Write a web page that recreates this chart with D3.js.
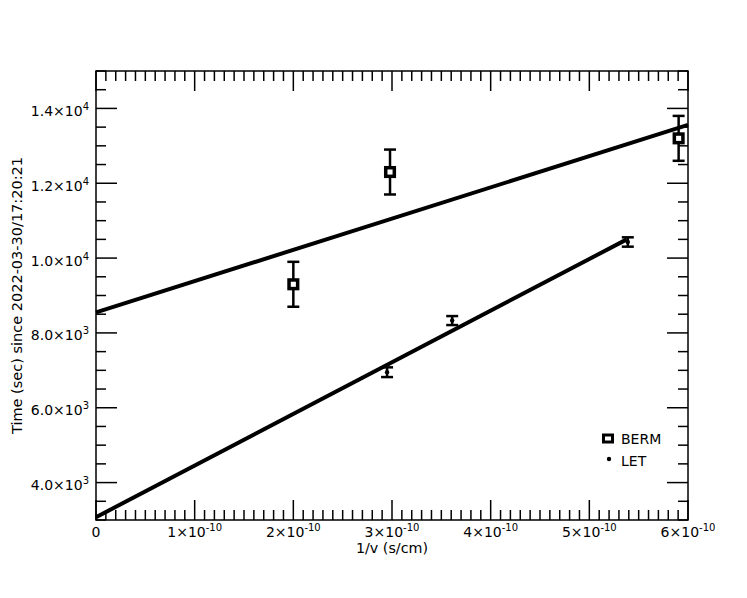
<!DOCTYPE html>
<html>
<head>
<meta charset="utf-8">
<script src="https://cdn.jsdelivr.net/npm/d3@7"></script>
<style>
  body { margin: 0; background: #fff; }
  text { font-family: "DejaVu Sans", sans-serif; fill: #000; }
</style>
</head>
<body>
<svg id="chart" width="747" height="598"></svg>
<script>
// ---- data ----
const xTicks = [0, 1e-10, 2e-10, 3e-10, 4e-10, 5e-10, 6e-10];
const xTickMant = ["0", "1×10", "2×10", "3×10", "4×10", "5×10", "6×10"];
const xTickExp = ["", "-10", "-10", "-10", "-10", "-10", "-10"];
const yTicks = [4000, 6000, 8000, 10000, 12000, 14000];
const yTickMant = ["4.0×10", "6.0×10", "8.0×10", "1.0×10", "1.2×10", "1.4×10"];
const yTickExp = ["3", "3", "3", "4", "4", "4"];

const bermX = [2.0e-10, 2.98e-10, 5.905e-10];
const bermY = [9300, 12300, 13200];
const bermErr = [600, 600, 600];

const letX = [2.95e-10, 3.61e-10, 5.39e-10];
const letY = [6950, 8330, 10430];
const letErr = [130, 120, 125];

const bermFitX = [0, 6e-10];
const bermFitY = [8550, 13560];
const letFitX = [0, 5.38e-10];
const letFitY = [3075, 10500];

const seriesNames = ["BERM", "LET"];

// ---- layout ----
const svg = d3.select("#chart");
const L = 96, R = 688, T = 71, B = 520;
const x = d3.scaleLinear().domain([0, 6e-10]).range([L, R]);
const y = d3.scaleLinear().domain([3000, 15000]).range([B, T]);

const axisG = svg.append("g").attr("stroke", "#000").attr("stroke-width", 1.5).attr("fill", "none");

// minor/major ticks
const xMinor = d3.range(0, 61).map(i => i * 1e-11);
const yMinor = d3.range(0, 25).map(i => 3000 + i * 500);

xMinor.forEach((v, i) => {
  const len = (i % 10 === 0) ? 20 : 10;
  const px = x(v);
  axisG.append("line").attr("x1", px).attr("x2", px).attr("y1", B).attr("y2", B - len);
  axisG.append("line").attr("x1", px).attr("x2", px).attr("y1", T).attr("y2", T + len);
});
yMinor.forEach(v => {
  const len = (v % 2000 === 0) ? 21 : 10;
  const py = y(v);
  axisG.append("line").attr("x1", L).attr("x2", L + len).attr("y1", py).attr("y2", py);
  axisG.append("line").attr("x1", R).attr("x2", R - len).attr("y1", py).attr("y2", py);
});
axisG.append("rect").attr("x", L).attr("y", T).attr("width", R - L).attr("height", B - T);

// x tick labels
xTicks.forEach((v, i) => {
  const t = svg.append("text").attr("x", x(v)).attr("y", 537).attr("text-anchor", "middle")
    .attr("font-size", 14);
  t.append("tspan").text(xTickMant[i]);
  if (xTickExp[i]) t.append("tspan").attr("dy", -6).attr("font-size", 10).text(xTickExp[i]);
});
// y tick labels
yTicks.forEach((v, i) => {
  const t = svg.append("text").attr("x", 89).attr("y", y(v) + 7.5).attr("text-anchor", "end")
    .attr("font-size", 14);
  t.append("tspan").text(yTickMant[i]);
  t.append("tspan").attr("dy", -6).attr("font-size", 10).text(yTickExp[i]);
});

// axis titles
svg.append("text").attr("x", (L + R) / 2).attr("y", 553).attr("text-anchor", "middle")
  .attr("font-size", 14.3).text("1/v (s/cm)");
svg.append("text").attr("transform", `translate(22,${(T + B) / 2}) rotate(-90)`)
  .attr("text-anchor", "middle").attr("font-size", 14.5)
  .text("Time (sec) since 2022-03-30/17:20:21");

// fit lines
const line = d3.line().x(d => x(d[0])).y(d => y(d[1]));
const plot = svg.append("g");
plot.append("path").datum(bermFitX.map((v, i) => [v, bermFitY[i]]))
  .attr("d", line).attr("stroke", "#000").attr("stroke-width", 4).attr("fill", "none");
plot.append("path").datum(letFitX.map((v, i) => [v, letFitY[i]]))
  .attr("d", line).attr("stroke", "#000").attr("stroke-width", 4).attr("fill", "none");

// error bars
function errBars(xs, ys, es) {
  xs.forEach((v, i) => {
    const px = x(v), y1 = y(ys[i] + es[i]), y2 = y(ys[i] - es[i]);
    const g = plot.append("g").attr("stroke", "#000").attr("stroke-width", 2.5);
    g.append("line").attr("x1", px).attr("x2", px).attr("y1", y1).attr("y2", y2);
    g.append("line").attr("x1", px - 6).attr("x2", px + 6).attr("y1", y1).attr("y2", y1);
    g.append("line").attr("x1", px - 6).attr("x2", px + 6).attr("y1", y2).attr("y2", y2);
  });
}
errBars(bermX, bermY, bermErr);
errBars(letX, letY, letErr);

// markers
bermX.forEach((v, i) => {
  plot.append("rect").attr("x", x(v) - 4.3).attr("y", y(bermY[i]) - 4.3)
    .attr("width", 8.6).attr("height", 8.6).attr("fill", "#fff")
    .attr("stroke", "#000").attr("stroke-width", 3.5);
});
letX.forEach((v, i) => {
  plot.append("circle").attr("cx", x(v)).attr("cy", y(letY[i])).attr("r", 2.2).attr("fill", "#000");
});

// legend
const lg = svg.append("g");
lg.append("rect").attr("x", 603.5).attr("y", 435).attr("width", 9).attr("height", 7)
  .attr("fill", "#fff").attr("stroke", "#000").attr("stroke-width", 3);
lg.append("text").attr("x", 621).attr("y", 443.5).attr("font-size", 14).text(seriesNames[0]);
lg.append("circle").attr("cx", 609).attr("cy", 459).attr("r", 2.2).attr("fill", "#000");
lg.append("text").attr("x", 621).attr("y", 466).attr("font-size", 14).text(seriesNames[1]);
</script>
</body>
</html>
